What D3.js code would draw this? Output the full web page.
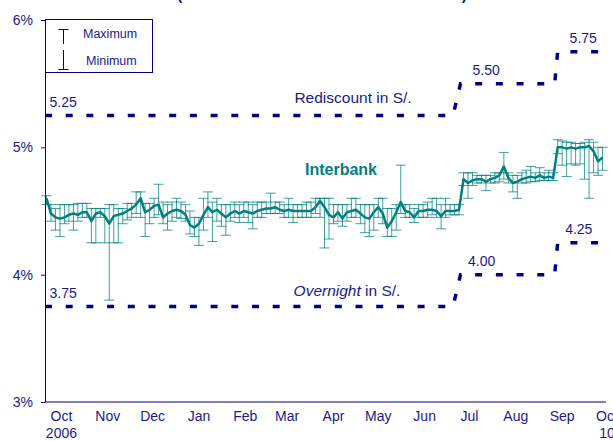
<!DOCTYPE html>
<html><head><meta charset="utf-8">
<script src="https://cdn.jsdelivr.net/npm/d3@7"></script>
<style>html,body{margin:0;padding:0;background:#fff;}svg{display:block;font-family:"Liberation Sans",Arial,sans-serif;}</style>
</head><body><div id="chart"></div>
<script>
// ---- data ----
const monthLabels = ["Oct","Nov","Dec","Jan","Feb","Mar","Apr","May","Jun","Jul","Aug","Sep","Oct"];
const yearLabels  = ["2006","","","","","","","","","","","","10"];
const yTicks = [3,4,5,6];
const sampleStart = "2006-10-02"; const sampleStepDays = 3;
const interbank = [4.60,4.48,4.45,4.44,4.45,4.47,4.48,4.47,4.49,4.49,
4.42,4.48,4.49,4.46,4.40,4.46,4.47,4.48,4.50,4.52,
4.55,4.60,4.49,4.51,4.54,4.55,4.45,4.48,4.50,4.51,
4.50,4.47,4.39,4.37,4.40,4.47,4.53,4.49,4.51,4.48,
4.45,4.48,4.50,4.48,4.50,4.49,4.48,4.50,4.51,4.52,
4.52,4.53,4.51,4.50,4.51,4.50,4.50,4.50,4.50,4.50,
4.53,4.58,4.53,4.47,4.45,4.49,4.44,4.49,4.50,4.51,
4.48,4.45,4.44,4.49,4.53,4.48,4.37,4.42,4.49,4.57,
4.50,4.49,4.45,4.50,4.50,4.51,4.51,4.50,4.46,4.50,
4.50,4.50,4.51,4.75,4.72,4.74,4.75,4.75,4.73,4.75,
4.76,4.78,4.85,4.76,4.72,4.73,4.75,4.76,4.77,4.76,
4.78,4.76,4.77,4.76,5.00,5.00,4.99,5.00,4.99,5.00,
5.00,5.01,4.97,4.89,4.92];
const interbankMax = [4.62,4.55,4.52,4.55,4.55,4.55,4.55,4.56,4.56,4.56,
4.52,4.52,4.52,4.52,4.55,4.55,4.52,4.52,4.56,4.56,
4.65,4.65,4.56,4.56,4.60,4.71,4.57,4.55,4.57,4.60,
4.57,4.55,4.50,4.45,4.45,4.60,4.65,4.57,4.60,4.55,
4.55,4.55,4.57,4.55,4.57,4.57,4.55,4.57,4.57,4.57,
4.64,4.57,4.57,4.55,4.60,4.55,4.55,4.55,4.57,4.57,
4.60,4.60,4.60,4.60,4.55,4.55,4.55,4.55,4.60,4.60,
4.55,4.55,4.55,4.55,4.60,4.60,4.52,4.52,4.55,4.86,
4.55,4.55,4.52,4.55,4.55,4.57,4.60,4.60,4.55,4.60,
4.55,4.55,4.55,4.80,4.80,4.80,4.78,4.78,4.78,4.78,
4.80,4.80,4.96,4.80,4.78,4.78,4.80,4.82,4.85,4.80,
4.84,4.80,4.82,4.80,5.06,5.05,5.04,5.04,5.03,5.03,
5.04,5.06,5.04,5.00,5.00];
const interbankMin = [4.55,4.42,4.35,4.30,4.40,4.42,4.35,4.42,4.45,4.45,
4.25,4.25,4.45,4.25,3.80,4.25,4.25,4.40,4.43,4.45,
4.48,4.45,4.30,4.40,4.45,4.47,4.40,4.35,4.42,4.45,
4.44,4.42,4.32,4.30,4.23,4.35,4.45,4.26,4.42,4.38,
4.31,4.42,4.45,4.41,4.45,4.41,4.36,4.45,4.45,4.48,
4.48,4.48,4.48,4.45,4.45,4.41,4.45,4.45,4.45,4.45,
4.48,4.45,4.21,4.28,4.40,4.42,4.38,4.42,4.45,4.45,
4.40,4.33,4.30,4.35,4.45,4.40,4.30,4.30,4.35,4.48,
4.45,4.45,4.41,4.45,4.45,4.45,4.47,4.45,4.36,4.45,
4.47,4.47,4.47,4.70,4.60,4.70,4.72,4.72,4.66,4.72,
4.72,4.73,4.75,4.72,4.65,4.60,4.72,4.72,4.73,4.73,
4.74,4.74,4.74,4.74,4.95,4.86,4.77,4.87,4.86,4.87,
4.75,4.60,4.80,4.78,4.82];
const rateDates = ["2006-10-01","2007-07-01","2007-07-06","2007-09-07","2007-09-09","2007-10-10"];
const rediscount = [5.25,5.25,5.50,5.50,5.75,5.75];
const overnight  = [3.75,3.75,4.00,4.00,4.25,4.25];
const rediscountLabels = ["5.25","5.50","5.75"];
const overnightLabels  = ["3.75","4.00","4.25"];
const rediscountLabelDates = ["2006-10-04","2007-07-14","2007-09-17"];
const overnightLabelDates  = ["2006-10-04","2007-07-11","2007-09-14"];

// ---- chart ----
const W = 613, H = 441;
const navy = "#000080", teal = "#008080", textNavy = "#1a1a8a";
const parse = d3.timeParse("%Y-%m-%d");
const svg = d3.select("#chart").append("svg").attr("width", W).attr("height", H);
svg.append("rect").attr("width", W).attr("height", H).attr("fill", "#fff");

const x = d3.scaleTime().domain([parse("2006-10-01"), parse("2007-10-10")]).range([45, 604]);
const y = d3.scaleLinear().domain([3, 6]).range([402, 20]);

// cut-off title (only the bottom of its brackets shows, as in the reference)
svg.append("text").attr("x", 322).attr("y", 0).attr("text-anchor", "middle")
  .attr("font-size", 17).attr("font-weight", "bold").attr("fill", textNavy)
  .attr("textLength", 290).attr("lengthAdjust", "spacingAndGlyphs")
  .text("(OCTOBER 2006 – OCTOBER 10 2007)");

// y axis
const yAxis = svg.append("g").attr("transform", "translate(45,0)")
  .call(d3.axisLeft(y).tickValues(yTicks).tickFormat(d => d + "%").tickSize(4).tickSizeOuter(0).tickPadding(8));
yAxis.selectAll("path,line").attr("stroke", navy);
yAxis.selectAll("text").attr("fill", textNavy).attr("font-size", 14).attr("font-family", "Liberation Sans, Arial, sans-serif");

// x axis line
svg.append("line").attr("x1", 45).attr("x2", 606).attr("y1", y(3)).attr("y2", y(3)).attr("stroke", navy).attr("stroke-width", 1.2);

// month labels
const start0 = parse("2006-10-12");
monthLabels.forEach((m, i) => {
  const d = d3.timeMonth.offset(start0, i);
  svg.append("text").attr("x", x(d)).attr("y", 421).attr("text-anchor", "middle")
    .attr("font-size", 14).attr("fill", textNavy).text(m);
  if (yearLabels[i]) svg.append("text").attr("x", x(d)).attr("y", 438).attr("text-anchor", "middle")
    .attr("font-size", 14).attr("fill", textNavy).text(yearLabels[i]);
});

// legend
svg.append("rect").attr("x", 45.5).attr("y", 19.5).attr("width", 107).attr("height", 53)
  .attr("fill", "#fff").attr("stroke", navy);
const lg = svg.append("g").attr("stroke", navy).attr("stroke-width", 1);
lg.append("line").attr("x1", 63.5).attr("x2", 63.5).attr("y1", 29.5).attr("y2", 44);
lg.append("line").attr("x1", 58.5).attr("x2", 68.5).attr("y1", 29.5).attr("y2", 29.5);
lg.append("line").attr("x1", 63.5).attr("x2", 63.5).attr("y1", 50).attr("y2", 69.5);
lg.append("line").attr("x1", 58.5).attr("x2", 68.5).attr("y1", 69.5).attr("y2", 69.5);
svg.append("text").attr("x", 83).attr("y", 38).attr("font-size", 12.5).attr("fill", textNavy).text("Maximum");
svg.append("text").attr("x", 86).attr("y", 65).attr("font-size", 12.5).attr("fill", textNavy).text("Minimum");

// policy rate lines
const rateLine = d3.line().x(d => x(d[0])).y(d => y(d[1]));
[rediscount, overnight].forEach(vals => {
  svg.append("path").datum(rateDates.map((d, i) => [parse(d), vals[i]]))
    .attr("d", rateLine).attr("fill", "none").attr("stroke", navy)
    .attr("stroke-width", 3.5).attr("stroke-dasharray", "7,13.7");
});
rediscountLabels.forEach((t, i) => {
  svg.append("text").attr("x", x(parse(rediscountLabelDates[i]))).attr("y", y(rediscount[i * 2]) - 9)
    .attr("font-size", 14).attr("fill", textNavy).text(t);
});
overnightLabels.forEach((t, i) => {
  svg.append("text").attr("x", x(parse(overnightLabelDates[i]))).attr("y", y(overnight[i * 2]) - 9)
    .attr("font-size", 14).attr("fill", textNavy).text(t);
});
svg.append("text").attr("x", 353).attr("y", 103).attr("text-anchor", "middle")
  .attr("font-size", 15.5).attr("fill", textNavy).text("Rediscount in S/.");
const on = svg.append("text").attr("x", 347).attr("y", 296).attr("text-anchor", "middle")
  .attr("font-size", 15.5).attr("fill", textNavy);
on.append("tspan").attr("font-style", "italic").text("Overnight");
on.append("tspan").text(" in S/.");

// interbank series
const s0 = parse(sampleStart);
const pts = interbank.map((v, i) => ({ date: d3.timeDay.offset(s0, i * sampleStepDays), v, hi: interbankMax[i], lo: interbankMin[i] }));
const eb = svg.append("g").attr("stroke", teal).attr("stroke-opacity", 0.75).attr("stroke-width", 1);
pts.forEach(p => {
  const px = x(p.date);
  eb.append("line").attr("x1", px).attr("x2", px).attr("y1", y(p.hi)).attr("y2", y(p.lo));
  eb.append("line").attr("x1", px - 5).attr("x2", px + 5).attr("y1", y(p.hi)).attr("y2", y(p.hi));
  eb.append("line").attr("x1", px - 5).attr("x2", px + 5).attr("y1", y(p.lo)).attr("y2", y(p.lo));
});
svg.append("path").datum(pts).attr("d", d3.line().x(d => x(d.date)).y(d => y(d.v)))
  .attr("fill", "none").attr("stroke", teal).attr("stroke-width", 2.5).attr("stroke-linejoin", "round");
svg.append("text").attr("x", 341).attr("y", 175).attr("text-anchor", "middle")
  .attr("font-size", 16).attr("font-weight", "bold").attr("fill", teal).text("Interbank");
</script></body></html>
